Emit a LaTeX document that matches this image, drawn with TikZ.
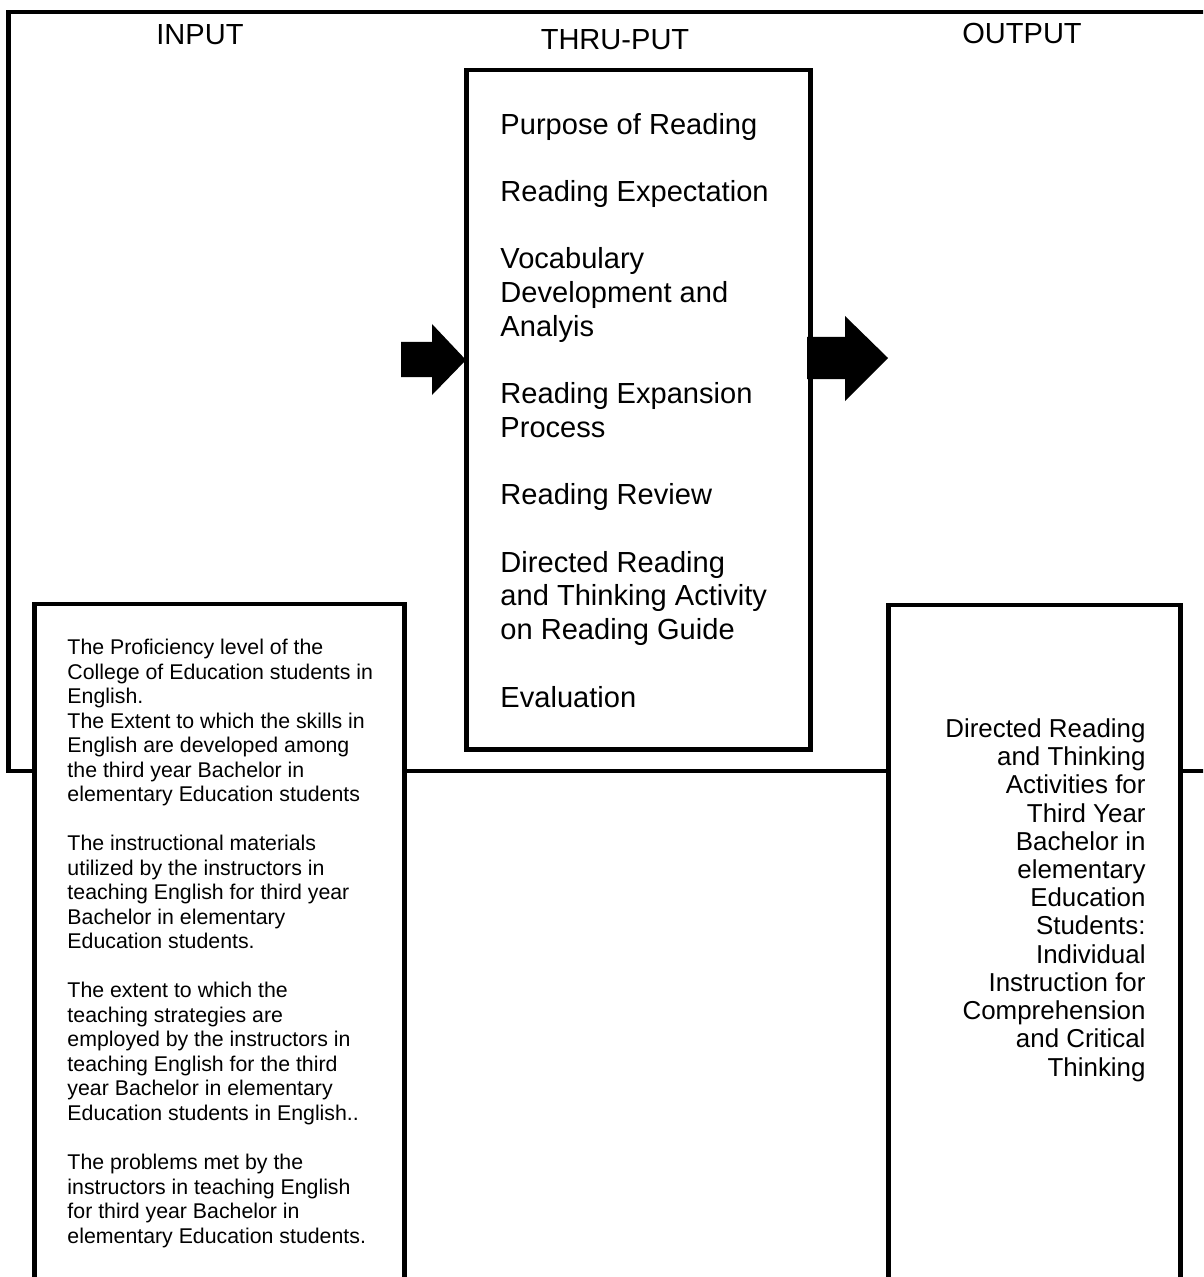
\documentclass[tikz,border=0pt]{standalone}
\usepackage{fontspec}
\setmainfont{Liberation Sans}
\usetikzlibrary{fit}

\begin{document}
\begin{tikzpicture}[x=0.413pt, y=-0.413pt,
        box/.style={draw, line width=2pt, fill=white, inner sep=0pt},
        blockarrow/.style={fill=black},
        head/.style={anchor=base, font=\fontsize{12}{13.9}\selectfont}]
    \useasboundingbox (0,0) rectangle (1203,1277);
    \clip (0,0) rectangle (1203,1277);

    % outer frame, open on the right
    \draw[line width=2pt] (1215,12) -- (8.5,12) -- (8.5,771) -- (1215,771);

    \node[head] (inlabel) at (200,45) {INPUT};
    \node[head] (thrulabel) at (615,50) {THRU-PUT};
    \node[head] (outlabel) at (1022,44) {OUTPUT};

    \node[box, fit={(466.5,70) (810.5,749.5)}] (thru) {};
    \node[box, fit={(34.5,604) (404.5,1300)}] (inbox) {};
    \node[box, fit={(888.5,605) (1180.5,1300)}] (outbox) {};

    % anchored on the baseline of the last line
    \node[anchor=base west, align=left, inner sep=0pt, font=\fontsize{12}{13.92}\selectfont] (thrutext) at (500,707)
        {Purpose of Reading\\[13.92pt]
         Reading Expectation\\[13.92pt]
         Vocabulary\\ Development and\\ Analyis\\[13.92pt]
         Reading Expansion\\ Process\\[13.92pt]
         Reading Review\\[13.92pt]
         Directed Reading\\ and Thinking Activity\\ on Reading Guide\\[13.92pt]
         Evaluation};

    \node[anchor=base west, align=left, inner sep=0pt, font=\fontsize{8.8}{10.12}\selectfont] (intext) at (67,1243)
        {The Proficiency level of the\\ College of Education students in\\ English.\\
         The Extent to which the skills in\\ English are developed among\\ the third year Bachelor in\\ elementary Education students\\[10.12pt]
         The instructional materials\\ utilized by the instructors in\\ teaching English for third year\\ Bachelor in elementary\\ Education students.\\[10.12pt]
         The extent to which the\\ teaching strategies are\\ employed by the instructors in\\ teaching English for the third\\ year Bachelor in elementary\\ Education students in English..\\[10.12pt]
         The problems met by the\\ instructors in teaching English\\ for third year Bachelor in\\ elementary Education students.};

    \node[anchor=base east, align=right, inner sep=0pt, font=\fontsize{10.7}{11.65}\selectfont] (outtext) at (1146,1076)
        {Directed Reading\\ and Thinking\\ Activities for\\ Third Year\\ Bachelor in\\ elementary\\ Education\\ Students:\\ Individual\\ Instruction for\\ Comprehension\\ and Critical\\ Thinking};

    % block arrows into and out of the thru-put box
    \coordinate (intip) at (466,360);
    \coordinate (outtip) at (888,358);
    \fill[blockarrow] (intip) -- ++(-34,-36) -- ++(0,18) -- ++(-31,0) -- ++(0,35) -- ++(31,0) -- ++(0,18) -- cycle;
    \fill[blockarrow] (outtip) -- ++(-43,-42) -- ++(0,21) -- ++(-38,0) -- ++(0,42) -- ++(38,0) -- ++(0,22) -- cycle;
\end{tikzpicture}
\end{document}
